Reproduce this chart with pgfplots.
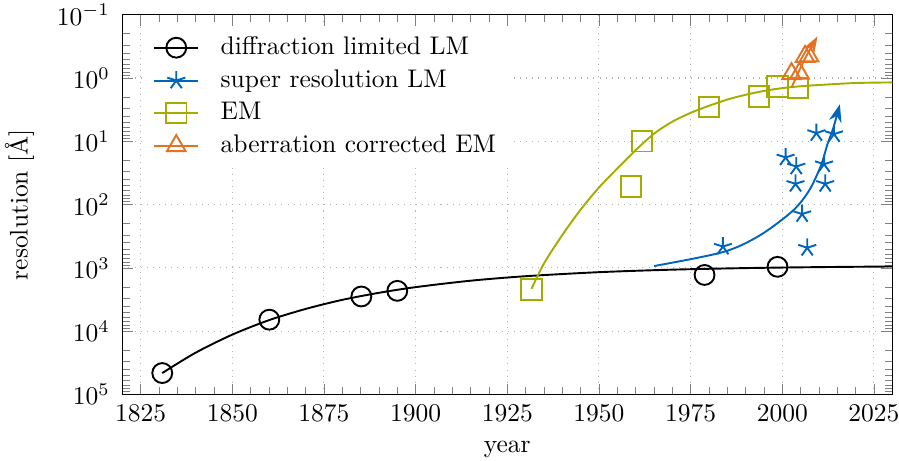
\documentclass[border=0pt]{standalone}
\usepackage{fontspec}
\usepackage{pgfplots}
\pgfplotsset{compat=1.18}
\usetikzlibrary{arrows.meta}

\definecolor{tumblue}{HTML}{0065BD}
\definecolor{tumgreen}{HTML}{A2AD00}
\definecolor{tumorange}{HTML}{E37222}

\begin{document}
\begin{tikzpicture}
\begin{axis}[
  name=ax,
  scale only axis,
  width=302pt, height=149pt,
  xmin=1820, xmax=2030,
  ymin=1e-1, ymax=1e5,
  ymode=log, y dir=reverse,
  xtick={1825,1850,...,2025},
  minor x tick num=4,
  ytick={1e-1,1,1e1,1e2,1e3,1e4,1e5},
  xticklabel style={/pgf/number format/1000 sep={}, yshift=-0.6pt},
  yticklabel style={xshift=-1.4pt},
  xlabel={year},
  xlabel style={yshift=-0.8pt},
  ylabel={resolution [\AA]},
  ylabel style={at={(axis description cs:-0.1335,0.5)}, anchor=center},
  grid=major,
  major grid style={dotted, gray!60},
  legend style={at={(0.03,0.97)}, anchor=north west, draw=none, fill=white,
                column sep=6.5pt, row sep=0.4pt},
  legend cell align=left,
]

% diffraction limited light microscopy
\addplot[black, line width=0.75pt, smooth, mark=none,
  legend image post style={mark=o, mark size=3.9pt}]
  coordinates {(1830.9,45700) (1840,21800) (1850,11300) (1860,6680) (1870,4440)
               (1880,3190) (1890,2470) (1900,2010) (1915,1590) (1930,1350)
               (1950,1166) (1970,1064) (1990,1005) (2010,970) (2030,948)};
\addlegendentry{diffraction limited LM}
\addplot[black, line width=0.75pt, only marks, mark=o, mark size=3.9pt, forget plot]
  coordinates {(1830.9,45700) (1860.1,6560) (1885.2,2820) (1895,2300) (1978.8,1290) (1998.7,960)};

% super resolution light microscopy
\addplot[tumblue, line width=0.75pt, smooth, mark=none,
  -{Stealth[length=7pt, width=5pt]},
  legend image post style={-, mark=star, mark size=3.7pt}]
  coordinates {(1965,933) (1983.8,562) (1993.75,309) (2002.8,126) (2007.3,60)
               (2010.5,24.5) (2012.3,11.2) (2013.9,6.2) (2015.7,2.6)};
\addlegendentry{super resolution LM}
\addplot[tumblue, line width=0.75pt, only marks, mark=star, mark size=3.7pt, forget plot]
  coordinates {(1983.8,460) (2000.9,18) (2003.8,25) (2003.6,47) (2005.4,141)
               (2006.8,480) (2009.3,7.4) (2014.1,7.7) (2011.4,23) (2011.7,47)};

% electron microscopy
\addplot[tumgreen, line width=0.75pt, smooth, mark=none,
  legend image post style={mark=square, mark size=4pt}]
  coordinates {(1931.6,2138) (1935,851) (1940,302) (1945,120) (1950,53.7)
               (1955,26.9) (1960,13.8) (1965,7.59) (1970,4.90) (1975,3.55)
               (1980,2.75) (1985,2.19) (1990,1.84) (1995,1.60) (2000,1.445)
               (2005,1.35) (2010,1.29) (2020,1.20) (2030,1.175)};
\addlegendentry{EM}
\addplot[tumgreen, line width=0.75pt, only marks, mark=square, mark size=4pt, forget plot]
  coordinates {(1931.6,2190) (1958.8,51.6) (1961.8,10) (1980,2.89) (1993.6,1.96)
               (1998.7,1.36) (2004.2,1.45)};

% aberration corrected electron microscopy
\addplot[tumorange, line width=0.75pt, smooth, mark=none,
  -{Stealth[length=6.5pt, width=4.5pt]},
  legend image post style={-, mark=triangle, mark size=4.2pt}]
  coordinates {(2002.5,1.42) (2006,0.52) (2009.6,0.22)};
\addlegendentry{aberration corrected EM}
\addplot[tumorange, line width=0.75pt, only marks, mark=triangle, mark size=4.2pt, forget plot]
  coordinates {(2002.5,0.86) (2004.7,0.84) (2006.2,0.46) (2007.3,0.45)};

\end{axis}
% page box: fixed margins around the plot area
\pgfresetboundingbox
\path ([xshift=-47.96pt, yshift=-26pt]ax.south west)
  rectangle ([xshift=2.63pt, yshift=5.76pt]ax.north east);
\end{tikzpicture}
\end{document}
